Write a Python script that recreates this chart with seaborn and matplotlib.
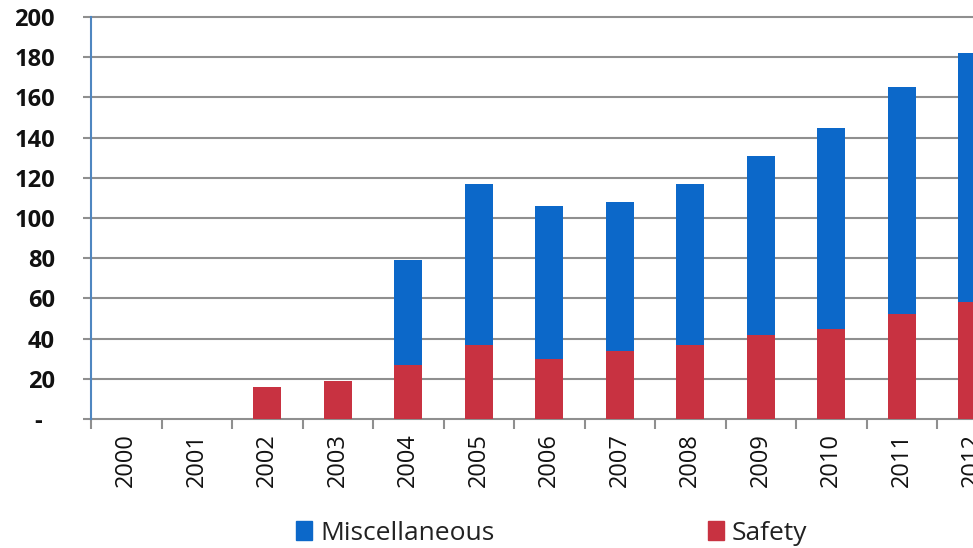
import matplotlib
matplotlib.use("Agg")
import matplotlib.pyplot as plt
from matplotlib.patches import Patch
import seaborn as sns
import pandas as pd

# Yearly counts by category
years = ["2000", "2001", "2002", "2003", "2004", "2005", "2006",
         "2007", "2008", "2009", "2010", "2011", "2012"]
safety = [0, 0, 16, 19, 27, 37, 30, 34, 37, 42, 45, 52, 58]
miscellaneous = [0, 0, 0, 0, 52, 80, 76, 74, 80, 89, 100, 113, 124]
y_ticks = [0, 20, 40, 60, 80, 100, 120, 140, 160, 180, 200]
y_tick_labels = ["-  ", "20", "40", "60", "80", "100", "120", "140",
                 "160", "180", "200"]

BLUE = "#0c68c9"
RED = "#c83241"
GRID = "#8f8f8f"

df = pd.DataFrame({"year": years, "Safety": safety,
                   "Miscellaneous": miscellaneous})
df["total"] = df["Safety"] + df["Miscellaneous"]

sns.set_theme(style="white")
plt.rcParams["font.family"] = ["Open Sans", "DejaVu Sans"]

fig = plt.figure(figsize=(9.73, 5.48), dpi=100)
W, H = 973, 548
left, right = 91, 973
bottom, top = 419, 17
ax = fig.add_axes([left / W, 1 - bottom / H, (right - left) / W, (bottom - top) / H])

# Stacked bars: full height in blue, safety portion over it in red
sns.barplot(data=df, x="year", y="total", color=BLUE, saturation=1,
            width=0.4, linewidth=0, ax=ax, zorder=3)
sns.barplot(data=df, x="year", y="Safety", color=RED, saturation=1,
            width=0.4, linewidth=0, ax=ax, zorder=4)

ax.set_xlabel("")
ax.set_ylabel("")

# Horizontal gridlines
ax.set_yticks(y_ticks)
ax.set_yticklabels(y_tick_labels, fontsize=17, fontweight="bold", color="#111111")
for yv in y_ticks:
    ax.axhline(yv, color=GRID, lw=1.5, zorder=1, clip_on=False)

ax.tick_params(axis="y", length=6, width=1.5, color=GRID, pad=20, left=True)

# Category labels at bar centers, tick marks at category boundaries
ax.set_xticks(range(len(years)))
ax.set_xticklabels(years, rotation=90, fontsize=17, color="#111111")
ax.set_xticks([i - 0.5 for i in range(len(years))], minor=True)
ax.tick_params(axis="x", which="major", length=0, pad=10)
ax.tick_params(axis="x", which="minor", length=7, width=1.5, color=GRID,
               bottom=True, direction="out")

# The plot runs off the right edge, cutting the last bar in half
ax.set_xlim(-0.5, (right - left) / 70.5 - 0.5)
ax.set_ylim(0, 200)

for side in ["top", "right", "bottom"]:
    ax.spines[side].set_visible(False)
ax.spines["left"].set_color("#4f86c0")
ax.spines["left"].set_linewidth(1.5)
ax.spines["left"].set_zorder(5)

handles = [Patch(color=BLUE), Patch(color=RED)]
fig.legend(handles, ["Miscellaneous", "Safety"], loc="center",
           bbox_to_anchor=(0.567, 0.027), ncol=2, frameon=False,
           fontsize=19, handlelength=0.6, handleheight=0.7,
           handletextpad=0.3, columnspacing=8.1, labelcolor="#222222")

fig.savefig("out.png", dpi=100)
